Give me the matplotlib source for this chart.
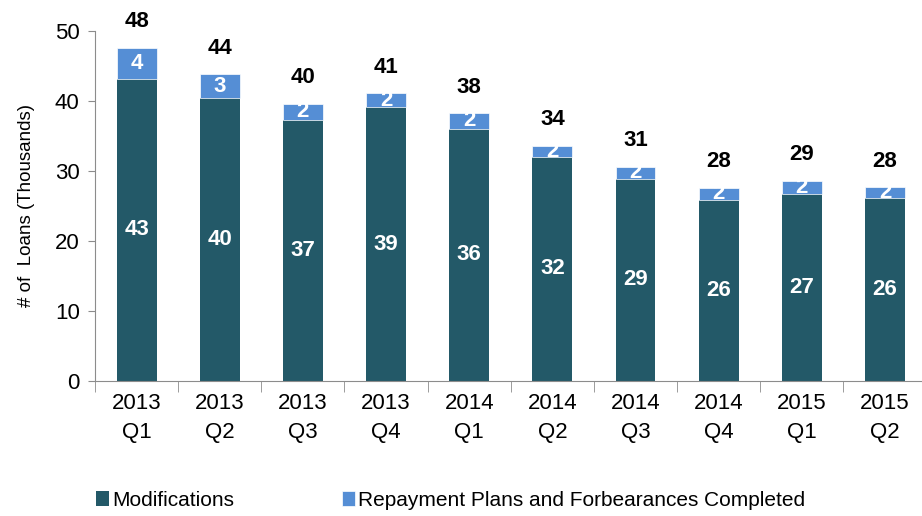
import matplotlib
matplotlib.use("Agg")
import matplotlib.pyplot as plt
import numpy as np

quarters = ["2013\nQ1", "2013\nQ2", "2013\nQ3", "2013\nQ4", "2014\nQ1",
            "2014\nQ2", "2014\nQ3", "2014\nQ4", "2015\nQ1", "2015\nQ2"]
modifications = [43.2, 40.4, 37.3, 39.1, 36.0, 32.0, 28.9, 25.9, 26.7, 26.1]
repayment_plans = [4.4, 3.4, 2.3, 2.0, 2.3, 1.6, 1.7, 1.7, 1.9, 1.6]

plt.rcParams['font.family'] = ['Liberation Sans', 'DejaVu Sans']

dark = "#235968"
light = "#558ed5"
grey = "#8c8c8c"

fig = plt.figure(figsize=(9.22, 5.16), dpi=100)
ax = fig.add_axes([0.103, 0.262, 0.902, 0.678])

x = np.arange(len(quarters))
mods = np.array(modifications)
reps = np.array(repayment_plans)
totals = mods + reps

w = 0.48
ax.bar(x, mods, w, color=dark, label="Modifications")
ax.bar(x, reps, w, bottom=mods, color=light, edgecolor="white", linewidth=0.5,
       label="Repayment Plans and Forbearances Completed")

for i in range(len(x)):
    ax.text(x[i], mods[i] / 2, "%d" % round(mods[i]), ha="center", va="center",
            color="white", fontsize=16, fontweight="bold")
    ax.text(x[i], mods[i] + reps[i] / 2, "%d" % round(reps[i]), ha="center", va="center",
            color="white", fontsize=16, fontweight="bold")
    ax.annotate("%d" % round(totals[i]), (x[i], totals[i]), xytext=(0, 11),
                textcoords="offset points", ha="center", va="bottom",
                fontsize=16, fontweight="bold", annotation_clip=False)

ax.set_xlim(-0.5, len(x) - 0.5)
ax.set_ylim(0, 50)
ax.set_yticks([0, 10, 20, 30, 40, 50])
ax.set_xticks(x)
ax.set_xticklabels(quarters, linespacing=1.45)
ax.set_xticks(np.arange(-0.5, len(x), 1.0), minor=True)
ax.tick_params(axis="x", which="major", length=0, labelsize=16, pad=9)
ax.tick_params(axis="x", which="minor", length=8, color=grey, direction="out")
ax.tick_params(axis="y", length=5, color=grey, labelsize=16, pad=6)
ax.set_ylabel("# of  Loans (Thousands)", fontsize=13.5, labelpad=14)

for s in ["top", "right"]:
    ax.spines[s].set_visible(False)
ax.spines["left"].set_color(grey)
ax.spines["bottom"].set_color(grey)

ax.legend(loc="upper left", bbox_to_anchor=(-0.021, -0.26), ncol=2, frameon=False,
          fontsize=15, handlelength=0.6, handleheight=0.7, handletextpad=0.15,
          columnspacing=5.2)

fig.savefig("out.png", dpi=100)
